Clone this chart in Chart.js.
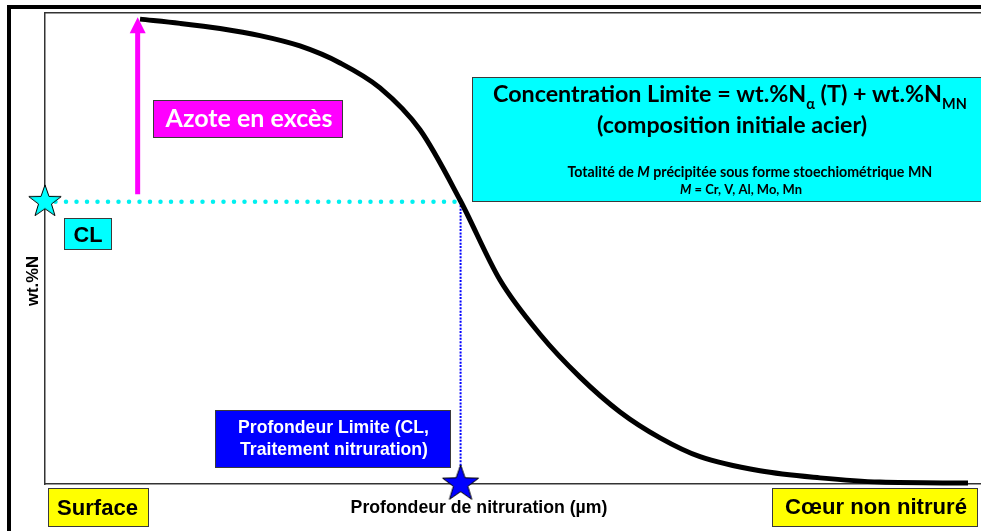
<!DOCTYPE html>
<html>
<head>
<meta charset="utf-8">
<script src="https://cdn.jsdelivr.net/npm/chart.js@4/dist/chart.umd.min.js"></script>
<style>
html,body{margin:0;padding:0;background:#fff;}
#c{display:block;}
</style>
</head>
<body>
<canvas id="c" width="981" height="531"></canvas>
<script>
// ---- data (arbitrary units: depth 0-100, wt.%N 0-100) ----
const depth = [10.15, 14.42, 18.70, 22.97, 27.24, 31.52, 35.79, 40.06, 44.34, 48.61, 52.88, 57.16, 61.43, 65.71, 69.98, 76.39, 82.80, 89.21, 98.61];
const conc  = [98.7, 97.8, 96.7, 95.2, 93.0, 89.4, 84.1, 75.2, 60.3, 43.3, 31.8, 22.7, 15.3, 9.8, 5.8, 2.8, 1.3, 0.4, 0.2];
const clLevel = 59.9;      // Concentration Limite
const clDepth = 44.4;      // Profondeur Limite
const arrowX = 9.9;
const arrowBase = 61.5;
const arrowTop = 98.9;
const xTitle = 'Profondeur de nitruration (µm)';
const yTitle = 'wt.%N';
const edgeLabels = ['Surface', 'Cœur non nitruré'];
const excessLabel = 'Azote en excès';
const clLabel = 'CL';
const depthLabel = ['Profondeur Limite (CL,', 'Traitement nitruration)'];
const formulaLine1 = [{t:'Concentration Limite = wt.%N'},{t:'α',sub:true},{t:' (T) + wt.%N'},{t:'MN',sub:true}];
const formulaLine2 = '(composition initiale acier)';
const formulaLine3 = [{t:'Totalité de '},{t:'M',it:true},{t:' précipitée sous forme stoechiométrique MN'}];
const formulaLine4 = [{t:'M',it:true},{t:' = Cr, V, Al, Mo, Mn'}];

const GOTHIC = 'Lato, "DejaVu Sans", sans-serif';
const ARIAL = '"Liberation Sans", Arial, sans-serif';

function makeStar(R, fill) {
  const s = Math.ceil(R * 2 + 4);
  const cv = document.createElement('canvas');
  cv.width = s; cv.height = s;
  const g = cv.getContext('2d');
  const cx = s / 2, cy = s / 2, r = R * 0.4;
  g.beginPath();
  for (let i = 0; i < 10; i++) {
    const rr = i % 2 === 0 ? R : r;
    const a = -Math.PI / 2 + i * Math.PI / 5;
    const px = cx + rr * Math.cos(a), py = cy + rr * Math.sin(a);
    if (i === 0) g.moveTo(px, py); else g.lineTo(px, py);
  }
  g.closePath();
  g.fillStyle = fill; g.fill();
  g.lineWidth = 1; g.strokeStyle = '#000'; g.stroke();
  return cv;
}
const cyanStar = makeStar(17, '#00ffff');
const blueStar = makeStar(19, '#0000ff');

function fitSize(ctx, text, target, family, weight, style) {
  ctx.font = (style||'') + ' ' + weight + ' 20px ' + family;
  const w = ctx.measureText(text).width;
  return 20 * target / w;
}
function textC(ctx, text, cx, base, target, family, color) {
  const sz = fitSize(ctx, text, target, family, 'bold');
  ctx.font = 'bold ' + sz.toFixed(2) + 'px ' + family;
  ctx.fillStyle = color; ctx.textAlign = 'center'; ctx.textBaseline = 'alphabetic';
  ctx.fillText(text, cx, base);
}
function segFont(seg, sz, family) {
  const s = seg.sub ? sz * 0.62 : sz;
  return (seg.it ? 'italic ' : '') + 'bold ' + s.toFixed(2) + 'px ' + family;
}
function rich(ctx, segs, x0, base, target, family, color, center) {
  let w = 0;
  segs.forEach(sg => { ctx.font = segFont(sg, 20, family); w += ctx.measureText(sg.t).width; });
  const sz = 20 * target / w;
  let x = center ? x0 - target / 2 : x0;
  ctx.fillStyle = color; ctx.textAlign = 'left'; ctx.textBaseline = 'alphabetic';
  segs.forEach(sg => {
    ctx.font = segFont(sg, sz, family);
    ctx.fillText(sg.t, x, base + (sg.sub ? sz * 0.28 : 0));
    x += ctx.measureText(sg.t).width;
  });
}
function box(ctx, x1, y1, x2, y2, fill) {
  ctx.fillStyle = fill;
  ctx.fillRect(x1, y1, x2 - x1, y2 - y1);
  ctx.lineWidth = 1; ctx.strokeStyle = '#3a3a3a';
  ctx.strokeRect(x1 + 0.5, y1 + 0.5, x2 - x1 - 1, y2 - y1 - 1);
}

const deco = {
  id: 'deco',
  beforeDraw(chart) {
    const ctx = chart.ctx;
    ctx.save();
    ctx.fillStyle = '#fff'; ctx.fillRect(0, 0, chart.width, chart.height);
    ctx.fillStyle = '#000';
    ctx.fillRect(7, 5, 4, chart.height);
    ctx.fillRect(7, 5, chart.width, 4);
    ctx.restore();
  },
  afterDatasetsDraw(chart) {
    const ctx = chart.ctx, xs = chart.scales.x, ys = chart.scales.y;
    ctx.save();
    // arrow head
    const ax = xs.getPixelForValue(arrowX), ay = ys.getPixelForValue(arrowTop);
    ctx.fillStyle = '#ff00ff';
    ctx.beginPath();
    ctx.moveTo(ax, ay - 1); ctx.lineTo(ax + 8, ay + 15); ctx.lineTo(ax - 8, ay + 15); ctx.closePath(); ctx.fill();

    // boxes
    box(ctx, 153, 100, 343, 138, '#ff00ff');
    textC(ctx, excessLabel, 249, 127, 167, GOTHIC, '#fff');

    box(ctx, 64, 218, 112, 250, '#00ffff');
    textC(ctx, clLabel, 88, 242, 29, ARIAL, '#000');

    box(ctx, 472, 77, 995, 202, '#00ffff');
    rich(ctx, formulaLine1, 493, 102, 474, GOTHIC, '#000', false);
    textC(ctx, formulaLine2, 732, 133, 270, GOTHIC, '#000');
    rich(ctx, formulaLine3, 750, 177, 365, GOTHIC, '#000', true);
    rich(ctx, formulaLine4, 741, 194, 122, GOTHIC, '#000', true);

    box(ctx, 215, 410, 451, 468, '#0000ff');
    textC(ctx, depthLabel[0], 333.5, 433, 191, ARIAL, '#fff');
    textC(ctx, depthLabel[1], 334, 455, 188, ARIAL, '#fff');

    box(ctx, 48, 488, 149, 527, '#ffff00');
    textC(ctx, edgeLabels[0], 97.5, 515, 81, ARIAL, '#000');
    box(ctx, 772, 488, 978, 527, '#ffff00');
    textC(ctx, edgeLabels[1], 876, 514, 182, ARIAL, '#000');

    // axis titles
    textC(ctx, xTitle, 479, 513, 257, ARIAL, '#000');
    ctx.save();
    ctx.translate(38, 281); ctx.rotate(-Math.PI / 2);
    textC(ctx, yTitle, 0, 0, 50, ARIAL, '#000');
    ctx.restore();
    ctx.restore();
  }
};

const axisCommon = { type: 'linear', min: 0, max: 100, grid: { display: false, drawTicks: false, tickLength: 0 }, ticks: { display: false, padding: 0 }, border: { display: true, color: '#333', width: 1.5 } };

new Chart(document.getElementById('c'), {
  type: 'line',
  data: {
    datasets: [
      { data: [{x: 0, y: clLevel}], pointStyle: cyanStar, pointRadius: 10, showLine: false, clip: false },
      { data: [{x: clDepth, y: 0}], pointStyle: blueStar, pointRadius: 10, showLine: false, clip: false },
      { data: depth.map((d, i) => ({x: d, y: conc[i]})), borderColor: '#000', borderWidth: 5, pointRadius: 0, cubicInterpolationMode: 'monotone', borderCapStyle: 'butt', borderJoinStyle: 'round', fill: false, clip: false },
      { data: [{x: arrowX, y: arrowBase}, {x: arrowX, y: arrowTop - 3}], borderColor: '#ff00ff', borderWidth: 5, pointRadius: 0, borderCapStyle: 'butt', clip: false },
      { data: [{x: 0, y: clLevel}, {x: clDepth, y: clLevel}], borderColor: '#00f0f0', borderWidth: 4.5, borderDash: [0, 10.5], borderCapStyle: 'round', pointRadius: 0, clip: false },
      { data: [{x: clDepth, y: clLevel}, {x: clDepth, y: 3}], borderColor: '#0000ff', borderWidth: 2, borderDash: [2, 1.4], pointRadius: 0, clip: false }
    ]
  },
  options: {
    responsive: false,
    animation: false,
    devicePixelRatio: 1,
    layout: { autoPadding: false, padding: { left: 45, top: 13, right: 0, bottom: 47 } },
    scales: {
      x: Object.assign({}, axisCommon, { position: 'bottom' }),
      x2: Object.assign({}, axisCommon, { position: 'top' }),
      y: Object.assign({}, axisCommon, { position: 'left' })
    },
    plugins: { legend: { display: false }, tooltip: { enabled: false } },
    events: []
  },
  plugins: [deco]
});
</script>
</body>
</html>
